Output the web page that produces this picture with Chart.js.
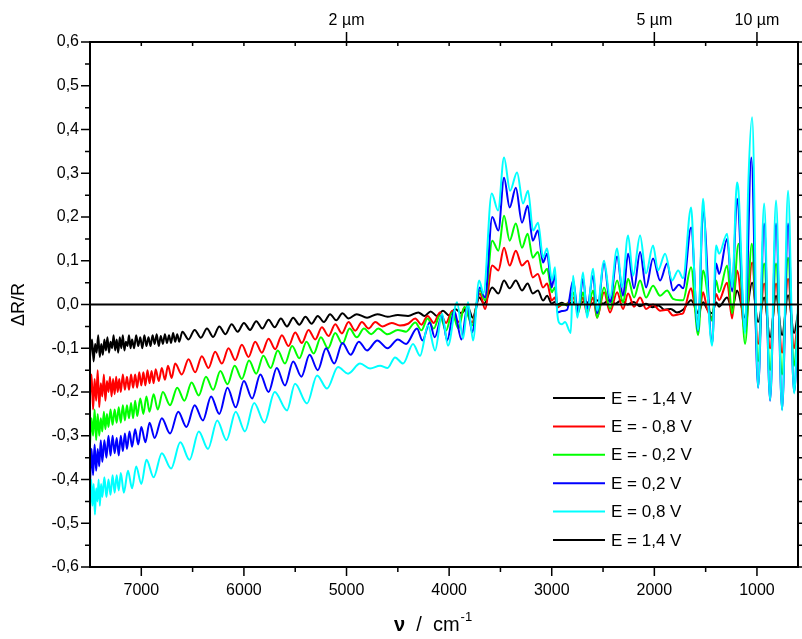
<!DOCTYPE html>
<html>
<head>
<meta charset="utf-8">
<title>ΔR/R Spektren</title>
<script src="https://cdn.jsdelivr.net/npm/chart.js@4.4.0/dist/chart.umd.min.js"></script>
<style>
  html, body { margin: 0; padding: 0; background: #fff; }
  #wrap { width: 802px; height: 639px; position: relative; }
</style>
</head>
<body>
<div id="wrap"><canvas id="spektrum"></canvas></div>
<script>
// Legende / Farben
const seriesLabels = ['E = - 1,4 V', 'E = - 0,8 V', 'E = - 0,2 V', 'E = 0,2 V', 'E = 0,8 V', 'E = 1,4 V'];
const seriesColors = ['#000000', '#FF0000', '#00FF00', '#0000FF', '#00FFFF', '#000000'];

// Achsenbeschriftung
const xTicks = [1000, 2000, 3000, 4000, 5000, 6000, 7000];
const topTicksUm = [2, 5, 10];

const dRm14 = [[7500,-0.12],[7480,-0.08],[7465,-0.13],[7450,-0.09],[7435,-0.11],[7420,-0.07],[7405,-0.12],[7390,-0.09],[7375,-0.115],[7360,-0.08],[7345,-0.105],[7330,-0.075],[7315,-0.11],[7300,-0.085],[7285,-0.1],[7270,-0.07],[7255,-0.105],[7240,-0.08],[7225,-0.11],[7210,-0.075],[7195,-0.1],[7180,-0.07],[7165,-0.105],[7150,-0.085],[7135,-0.095],[7120,-0.07],[7105,-0.1],[7090,-0.08],[7070,-0.1],[7050,-0.07],[7030,-0.095],[7010,-0.075],[6990,-0.1],[6970,-0.07],[6950,-0.095],[6930,-0.075],[6910,-0.095],[6890,-0.07],[6870,-0.09],[6850,-0.068],[6830,-0.095],[6810,-0.072],[6790,-0.09],[6770,-0.068],[6750,-0.088],[6730,-0.07],[6710,-0.088],[6690,-0.065],[6670,-0.085],[6650,-0.068],[6630,-0.085],[6600,-0.062],[6540,-0.08],[6480,-0.058],[6420,-0.076],[6360,-0.055],[6300,-0.074],[6240,-0.05],[6180,-0.068],[6120,-0.045],[6060,-0.062],[6000,-0.042],[5940,-0.058],[5880,-0.038],[5820,-0.055],[5760,-0.035],[5700,-0.052],[5640,-0.032],[5580,-0.05],[5520,-0.03],[5460,-0.046],[5400,-0.028],[5340,-0.044],[5280,-0.026],[5220,-0.04],[5160,-0.022],[5100,-0.036],[5040,-0.02],[4980,-0.032],[4900,-0.022],[4800,-0.03],[4700,-0.022],[4600,-0.028],[4500,-0.024],[4400,-0.026],[4300,-0.018],[4240,-0.026],[4180,-0.016],[4120,-0.026],[4060,-0.014],[4000,-0.025],[3940,-0.01],[3880,-0.02],[3820,-0.005],[3770,-0.03],[3705,0.016],[3660,0.002],[3580,0.039],[3520,0.025],[3465,0.055],[3410,0.037],[3350,0.055],[3290,0.032],[3235,0.048],[3185,0.025],[3135,0.032],[3085,0.009],[3045,0.02],[3000,0.002],[2970,0.006],[2945,0.0],[2900,0.004],[2850,-0.002],[2800,0.006],[2740,-0.002],[2680,0.008],[2620,0.0],[2560,0.01],[2500,0.002],[2440,0.01],[2380,0.002],[2320,0.01],[2260,0.0],[2200,0.006],[2140,-0.004],[2080,0.002],[2020,-0.006],[1960,-0.002],[1900,-0.012],[1840,-0.01],[1780,-0.018],[1720,-0.012],[1642,0.01],[1603,-0.005],[1574,-0.02],[1525,0.005],[1486,-0.01],[1437,-0.02],[1398,0.005],[1369,-0.005],[1291,0.016],[1242,-0.01],[1194,0.032],[1116,-0.03],[1047,0.05],[989,-0.04],[930,0.016],[872,-0.075],[814,0.02],[755,-0.07],[697,0.021],[638,-0.065],[600,-0.02]];

const dRm08 = [[7500,-0.21],[7485,-0.16],[7470,-0.24],[7455,-0.17],[7440,-0.22],[7425,-0.15],[7410,-0.235],[7395,-0.18],[7380,-0.21],[7365,-0.16],[7350,-0.22],[7335,-0.175],[7320,-0.2],[7305,-0.165],[7290,-0.21],[7275,-0.17],[7260,-0.205],[7245,-0.165],[7230,-0.2],[7215,-0.17],[7200,-0.2],[7180,-0.16],[7160,-0.195],[7140,-0.165],[7120,-0.195],[7100,-0.16],[7080,-0.19],[7060,-0.16],[7040,-0.19],[7020,-0.155],[7000,-0.185],[6980,-0.155],[6960,-0.185],[6940,-0.15],[6920,-0.18],[6900,-0.152],[6880,-0.18],[6860,-0.148],[6830,-0.175],[6800,-0.145],[6770,-0.172],[6740,-0.14],[6705,-0.168],[6670,-0.135],[6605,-0.16],[6540,-0.125],[6475,-0.155],[6410,-0.118],[6345,-0.145],[6280,-0.108],[6215,-0.135],[6150,-0.1],[6085,-0.127],[6020,-0.092],[5955,-0.12],[5890,-0.085],[5825,-0.11],[5760,-0.078],[5695,-0.102],[5630,-0.07],[5565,-0.095],[5500,-0.064],[5435,-0.088],[5370,-0.058],[5305,-0.08],[5240,-0.052],[5175,-0.072],[5110,-0.045],[5045,-0.066],[4980,-0.04],[4915,-0.06],[4850,-0.04],[4785,-0.055],[4720,-0.04],[4650,-0.05],[4560,-0.042],[4480,-0.048],[4400,-0.044],[4330,-0.032],[4270,-0.046],[4210,-0.026],[4150,-0.042],[4090,-0.018],[4030,-0.042],[3970,-0.014],[3910,-0.04],[3850,-0.007],[3777,-0.041],[3700,0.025],[3650,-0.01],[3580,0.089],[3520,0.078],[3465,0.13],[3410,0.089],[3350,0.123],[3290,0.089],[3235,0.1],[3185,0.062],[3135,0.07],[3085,0.039],[3045,0.048],[3000,0.009],[2970,0.016],[2945,-0.007],[2900,0.0],[2850,0.002],[2792,0.016],[2744,-0.014],[2695,0.016],[2656,-0.021],[2597,0.016],[2558,-0.03],[2490,0.028],[2432,-0.018],[2363,0.028],[2305,-0.01],[2256,0.025],[2198,-0.005],[2139,0.016],[2081,-0.01],[2013,0.0],[1944,-0.014],[1876,-0.012],[1818,-0.025],[1749,-0.022],[1720,-0.02],[1642,0.037],[1603,-0.01],[1574,-0.04],[1525,0.028],[1486,-0.01],[1437,-0.03],[1398,0.024],[1369,0.01],[1291,0.05],[1242,-0.032],[1194,0.078],[1116,-0.06],[1047,0.096],[989,-0.09],[930,0.048],[872,-0.1],[814,0.048],[755,-0.11],[697,0.059],[638,-0.1],[600,-0.03]];

const dRm02 = [[7500,-0.32],[7485,-0.26],[7470,-0.3],[7455,-0.24],[7440,-0.31],[7425,-0.25],[7410,-0.3],[7395,-0.26],[7380,-0.29],[7365,-0.245],[7350,-0.285],[7335,-0.25],[7320,-0.28],[7300,-0.24],[7280,-0.275],[7260,-0.24],[7240,-0.27],[7220,-0.235],[7200,-0.27],[7180,-0.23],[7160,-0.265],[7140,-0.23],[7120,-0.26],[7100,-0.225],[7080,-0.26],[7060,-0.22],[7040,-0.255],[7010,-0.215],[6980,-0.25],[6950,-0.21],[6920,-0.245],[6880,-0.205],[6840,-0.24],[6790,-0.2],[6720,-0.23],[6650,-0.19],[6580,-0.22],[6510,-0.178],[6440,-0.208],[6370,-0.165],[6300,-0.195],[6230,-0.152],[6160,-0.182],[6090,-0.14],[6020,-0.17],[5950,-0.128],[5880,-0.158],[5810,-0.117],[5740,-0.145],[5670,-0.105],[5600,-0.135],[5530,-0.095],[5460,-0.123],[5390,-0.085],[5320,-0.112],[5250,-0.075],[5180,-0.1],[5110,-0.065],[5040,-0.09],[4970,-0.055],[4900,-0.075],[4830,-0.055],[4760,-0.068],[4690,-0.055],[4600,-0.068],[4500,-0.058],[4420,-0.062],[4330,-0.041],[4270,-0.059],[4210,-0.032],[4150,-0.055],[4090,-0.025],[4030,-0.06],[3970,-0.018],[3910,-0.055],[3850,-0.005],[3777,-0.048],[3700,0.032],[3650,0.01],[3580,0.146],[3520,0.123],[3465,0.203],[3410,0.146],[3350,0.185],[3290,0.13],[3235,0.162],[3185,0.107],[3135,0.12],[3085,0.07],[3045,0.082],[3000,0.028],[2970,0.039],[2945,-0.002],[2900,0.0],[2850,0.0],[2792,0.028],[2744,-0.02],[2695,0.028],[2656,-0.018],[2597,0.032],[2558,-0.03],[2490,0.039],[2432,-0.01],[2363,0.055],[2305,0.005],[2256,0.059],[2198,0.016],[2139,0.055],[2081,0.016],[2013,0.043],[1944,0.02],[1876,0.032],[1818,0.013],[1749,0.01],[1720,0.01],[1642,0.085],[1574,-0.07],[1525,0.078],[1437,-0.037],[1398,0.055],[1369,0.028],[1291,0.089],[1242,-0.02],[1180,0.139],[1116,-0.09],[1050,0.139],[989,-0.13],[930,0.094],[872,-0.15],[814,0.094],[755,-0.16],[697,0.107],[638,-0.14],[600,-0.04]];

const dRp02 = [[7500,-0.41],[7485,-0.33],[7470,-0.39],[7455,-0.32],[7440,-0.38],[7425,-0.33],[7410,-0.37],[7395,-0.31],[7380,-0.36],[7360,-0.31],[7340,-0.35],[7320,-0.3],[7300,-0.345],[7280,-0.3],[7260,-0.34],[7240,-0.305],[7220,-0.345],[7200,-0.3],[7180,-0.335],[7160,-0.295],[7140,-0.33],[7115,-0.29],[7090,-0.325],[7060,-0.285],[7030,-0.32],[7000,-0.28],[6960,-0.315],[6920,-0.27],[6870,-0.305],[6800,-0.26],[6720,-0.295],[6640,-0.245],[6560,-0.28],[6480,-0.23],[6400,-0.265],[6320,-0.21],[6240,-0.25],[6160,-0.19],[6080,-0.235],[6000,-0.175],[5920,-0.215],[5840,-0.16],[5760,-0.2],[5680,-0.145],[5600,-0.185],[5520,-0.13],[5440,-0.165],[5360,-0.115],[5280,-0.15],[5200,-0.1],[5120,-0.135],[5040,-0.088],[4960,-0.115],[4880,-0.085],[4800,-0.105],[4700,-0.082],[4600,-0.1],[4500,-0.08],[4420,-0.09],[4313,-0.055],[4260,-0.082],[4190,-0.041],[4140,-0.075],[4070,-0.025],[4020,-0.082],[3950,-0.014],[3880,-0.08],[3820,-0.002],[3777,-0.064],[3700,0.039],[3650,0.016],[3580,0.2],[3520,0.169],[3465,0.29],[3410,0.222],[3350,0.267],[3290,0.187],[3235,0.226],[3185,0.146],[3135,0.169],[3085,0.096],[3045,0.116],[3000,0.039],[2970,0.07],[2945,-0.018],[2900,-0.015],[2850,-0.012],[2792,0.055],[2744,-0.018],[2695,0.059],[2656,-0.01],[2597,0.066],[2558,-0.02],[2490,0.094],[2432,0.005],[2363,0.11],[2305,0.02],[2256,0.116],[2198,0.037],[2139,0.12],[2081,0.039],[2013,0.105],[1944,0.055],[1876,0.094],[1818,0.032],[1760,0.045],[1720,0.037],[1642,0.176],[1574,-0.06],[1525,0.215],[1437,-0.09],[1398,0.094],[1369,0.07],[1291,0.15],[1242,0.03],[1194,0.242],[1116,-0.06],[1055,0.336],[989,-0.19],[930,0.185],[872,-0.22],[814,0.185],[755,-0.24],[697,0.185],[638,-0.2],[600,-0.05]];

const dRp08 = [[7500,-0.47],[7488,-0.4],[7476,-0.46],[7464,-0.41],[7452,-0.48],[7440,-0.42],[7428,-0.45],[7416,-0.4],[7404,-0.46],[7392,-0.41],[7380,-0.44],[7360,-0.395],[7340,-0.44],[7320,-0.4],[7300,-0.435],[7280,-0.39],[7260,-0.43],[7240,-0.39],[7220,-0.425],[7200,-0.385],[7170,-0.43],[7130,-0.38],[7090,-0.42],[7050,-0.37],[7000,-0.41],[6950,-0.355],[6880,-0.395],[6800,-0.34],[6710,-0.375],[6620,-0.315],[6530,-0.355],[6440,-0.29],[6350,-0.33],[6260,-0.265],[6170,-0.31],[6080,-0.245],[5990,-0.29],[5900,-0.225],[5800,-0.27],[5700,-0.2],[5580,-0.242],[5502,-0.181],[5385,-0.226],[5287,-0.162],[5190,-0.192],[5083,-0.143],[4985,-0.158],[4868,-0.135],[4771,-0.146],[4673,-0.14],[4600,-0.145],[4527,-0.121],[4449,-0.135],[4352,-0.09],[4283,-0.117],[4206,-0.048],[4137,-0.105],[4069,-0.021],[4011,-0.094],[3923,0.005],[3864,-0.078],[3816,0.005],[3767,-0.082],[3708,0.055],[3665,0.025],[3585,0.254],[3523,0.215],[3465,0.336],[3406,0.26],[3338,0.302],[3280,0.231],[3231,0.26],[3182,0.169],[3133,0.187],[3085,0.107],[3046,0.128],[2997,0.055],[2968,0.085],[2948,-0.014],[2930,-0.041],[2900,-0.045],[2870,-0.04],[2815,-0.065],[2792,0.066],[2750,-0.03],[2695,0.073],[2656,-0.03],[2597,0.082],[2558,-0.014],[2490,0.1],[2432,0.016],[2363,0.128],[2315,0.039],[2256,0.158],[2207,0.066],[2139,0.158],[2081,0.071],[2013,0.135],[1964,0.078],[1895,0.116],[1827,0.055],[1768,0.078],[1720,0.06],[1642,0.222],[1603,0.03],[1574,-0.059],[1525,0.242],[1486,0.05],[1437,-0.094],[1398,0.135],[1369,0.116],[1291,0.162],[1242,0.039],[1194,0.279],[1180,0.26],[1116,-0.066],[1086,0.26],[1047,0.428],[989,-0.19],[930,0.231],[872,-0.219],[814,0.238],[755,-0.242],[697,0.26],[638,-0.203],[600,0.0]];

const dRp14 = [[7500,0],[600,0]];

const allSeries = [dRm14, dRm08, dRm02, dRp02, dRp08, dRp14];
const fontFam = '"Liberation Sans", Arial, sans-serif';

// Rahmen, Teilstriche, Achsentitel und Legende
const rahmenPlugin = {
  id: 'rahmen',
  afterDraw(chart) {
    const { ctx, chartArea: a, scales } = chart;
    const sx = scales.x, sy = scales.y;
    ctx.save();
    ctx.strokeStyle = '#000';
    ctx.lineWidth = 2;
    ctx.strokeRect(a.left, a.top, a.right - a.left, a.bottom - a.top);

    ctx.lineWidth = 1.5;
    ctx.beginPath();
    for (let v = 1000; v < 7500; v += 500) {
      const px = sx.getPixelForValue(v);
      ctx.moveTo(px, a.bottom); ctx.lineTo(px, a.bottom + (v % 1000 === 0 ? 9 : 5));
      ctx.moveTo(px, a.top); ctx.lineTo(px, a.top + 4);
    }
    topTicksUm.forEach(u => {
      const px = sx.getPixelForValue(1e4 / u);
      ctx.moveTo(px, a.top); ctx.lineTo(px, a.top - 10);
    });
    for (let k = -12; k <= 12; k++) {
      const py = sy.getPixelForValue(k * 0.05);
      ctx.moveTo(a.left, py); ctx.lineTo(a.left - (k % 2 === 0 ? 9 : 5), py);
      ctx.moveTo(a.right, py); ctx.lineTo(a.right + 5, py);
    }
    ctx.stroke();

    // y-Titel
    ctx.fillStyle = '#000';
    ctx.font = '18px ' + fontFam;
    ctx.textAlign = 'center';
    ctx.textBaseline = 'middle';
    ctx.save();
    ctx.translate(19, (a.top + a.bottom) / 2);
    ctx.rotate(-Math.PI / 2);
    ctx.fillText('\u0394R/R', 0, 0);
    ctx.restore();

    // x-Titel
    ctx.textAlign = 'left';
    ctx.textBaseline = 'alphabetic';
    let tx = 394;
    const ty = 631;
    ctx.font = 'bold 20px ' + fontFam;
    ctx.fillText('\u03bd', tx, ty);
    tx += ctx.measureText('\u03bd').width;
    ctx.font = '20px ' + fontFam;
    ctx.fillText('  /  cm', tx, ty);
    tx += ctx.measureText('  /  cm').width + 1;
    ctx.font = '13px ' + fontFam;
    ctx.fillText('-1', tx, ty - 10);

    // Legende
    ctx.font = '17px ' + fontFam;
    ctx.textBaseline = 'middle';
    seriesLabels.forEach((lab, i) => {
      const ly = 398 + i * 28.4;
      ctx.strokeStyle = seriesColors[i];
      ctx.lineWidth = 2;
      ctx.beginPath();
      ctx.moveTo(553, ly); ctx.lineTo(605, ly);
      ctx.stroke();
      ctx.fillStyle = '#000';
      ctx.fillText(lab, 611, ly + 1);
    });
    ctx.restore();
  }
};

const datasets = allSeries.map((s, i) => ({
  label: seriesLabels[i],
  data: s.map(p => ({ x: p[0], y: p[1] })),
  borderColor: seriesColors[i],
  backgroundColor: seriesColors[i],
  borderWidth: 2,
  pointRadius: 0,
  fill: false,
  cubicInterpolationMode: 'monotone',
  order: allSeries.length - 1 - i
}));

const tickFont = { family: fontFam, size: 16 };

new Chart(document.getElementById('spektrum').getContext('2d'), {
  type: 'line',
  data: { datasets: datasets },
  options: {
    responsive: true,
    maintainAspectRatio: false,
    animation: false,
    layout: { padding: { left: 0, right: 4, top: 0, bottom: 0 } },
    plugins: { legend: { display: false }, tooltip: { enabled: false } },
    scales: {
      x: {
        type: 'linear', position: 'bottom', reverse: true, min: 600, max: 7500,
        afterBuildTicks: s => { s.ticks = xTicks.map(v => ({ value: v })); },
        afterFit: s => { s.height = 72; },
        grid: { display: false, drawTicks: false },
        border: { display: false },
        ticks: { padding: 14, color: '#000', font: tickFont, maxRotation: 0, autoSkip: false,
                 callback: v => String(v) }
      },
      x2: {
        type: 'linear', position: 'top', reverse: true, min: 600, max: 7500,
        afterBuildTicks: s => { s.ticks = topTicksUm.map(u => ({ value: 1e4 / u })); },
        afterFit: s => { s.height = 42; },
        grid: { display: false, drawTicks: false },
        border: { display: false },
        ticks: { padding: 12, color: '#000', font: tickFont, maxRotation: 0, autoSkip: false,
                 callback: v => Math.round(1e4 / v) + ' \u00b5m' }
      },
      y: {
        min: -0.6, max: 0.6,
        afterFit: s => { s.width = 90; },
        grid: { display: false, drawTicks: false },
        border: { display: false },
        ticks: { stepSize: 0.1, padding: 11, color: '#000', font: tickFont,
                 callback: v => Math.abs(v) < 1e-9 ? '0,0' : v.toFixed(1).replace('.', ',') }
      }
    }
  },
  plugins: [rahmenPlugin]
});
</script>
</body>
</html>
